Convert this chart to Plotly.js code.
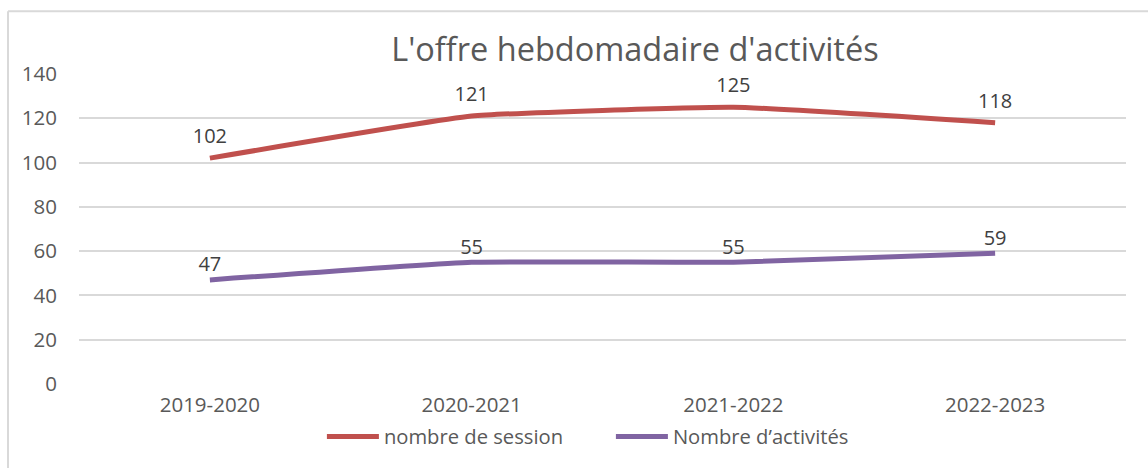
<!DOCTYPE html>
<html>
<head>
<meta charset="utf-8">
<script src="https://cdn.plot.ly/plotly-3.0.1.min.js"></script>
<style>
html,body{margin:0;padding:0;background:#fff;}
#chart{width:1148px;height:468px;}
</style>
</head>
<body>
<div id="chart"></div>
<script>
const categories = ["2019-2020", "2020-2021", "2021-2022", "2022-2023"];
const sessions = [102, 121, 125, 118];
const activites = [47, 55, 55, 59];
const seriesNames = ["nombre de session", "Nombre d\u2019activités"];
const titleText = "L'offre hebdomadaire d'activités";
const yTicks = [0, 20, 40, 60, 80, 100, 120, 140];

const FONT = "Open Sans, Liberation Sans, sans-serif";
function makeTrace(yv, name, color, labelGap) {
  return {
    x: categories, y: yv, name: name,
    type: "scatter", mode: "lines+markers+text",
    text: yv.map(String), textposition: "top center",
    textfont: {family: FONT, size: 20, color: "#404040"},
    marker: {size: labelGap, opacity: 0, color: "rgba(0,0,0,0)", line: {width: 0}},
    line: {color: color, width: 5, shape: "spline", smoothing: 0.35},
    hoverinfo: "x+y"
  };
}
const traces = [
  makeTrace(sessions, seriesNames[0], "#C0504D", 14),
  makeTrace(activites, seriesNames[1], "#8064A2", 4)
];

const layout = {
  width: 1148, height: 468,
  margin: {l: 79, r: 22, t: 74, b: 83},
  paper_bgcolor: "#ffffff", plot_bgcolor: "#ffffff",
  font: {family: FONT, size: 20, color: "#595959"},
  title: {
    text: titleText,
    font: {family: FONT, size: 32.5, color: "#595959"},
    xref: "paper", x: 0.531, xanchor: "center",
    yref: "container", y: 0.893, yanchor: "middle"
  },
  xaxis: {
    type: "category", range: [-0.5, 3.5],
    showgrid: false, showline: false, zeroline: false,
    ticks: "", tickfont: {family: FONT, size: 20.5, color: "#595959"},
    ticklabelstandoff: 6,
    fixedrange: true
  },
  yaxis: {
    range: [0, 140], tickvals: yTicks, ticktext: yTicks.map(String),
    showgrid: true, gridcolor: "#D9D9D9", gridwidth: 2,
    zeroline: false, showline: false, ticks: "",
    tickfont: {family: FONT, size: 20.5, color: "#595959"},
    ticklabelstandoff: 21,
    fixedrange: true
  },
  showlegend: true,
  legend: {
    orientation: "h", xref: "paper", x: 0.232, xanchor: "left",
    yref: "paper", y: -0.167, yanchor: "middle",
    font: {family: FONT, size: 20.2, color: "#595959"},
    itemwidth: 52, entrywidth: 222, tracegroupgap: 0,
    bgcolor: "rgba(0,0,0,0)"
  },
  shapes: [
    {type: "line", xref: "paper", yref: "paper", x0: -0.0678, x1: -0.0678, y0: 1.2026, y1: -0.3,
     line: {color: "#D9D9D9", width: 2}},
    {type: "line", xref: "paper", yref: "paper", x0: -0.0678, x1: 1.03, y0: 1.2026, y1: 1.2026,
     line: {color: "#D9D9D9", width: 2}}
  ]
};

Plotly.newPlot("chart", traces, layout, {displayModeBar: false, staticPlot: true});
</script>
</body>
</html>
